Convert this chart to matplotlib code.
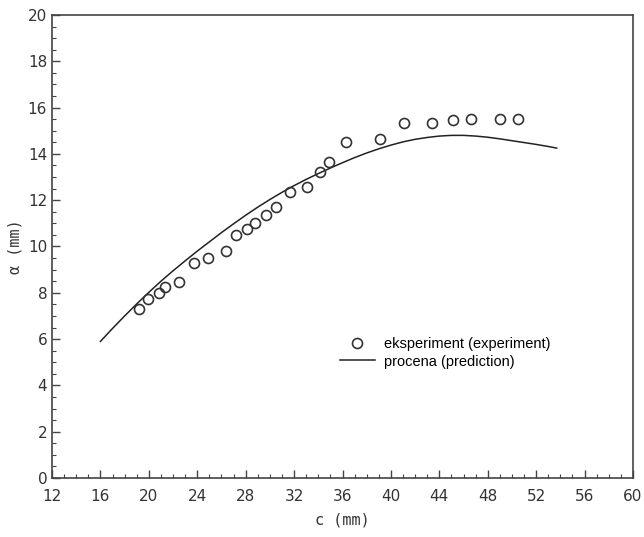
import matplotlib
matplotlib.use("Agg")
import matplotlib.pyplot as plt
from matplotlib.ticker import MultipleLocator

# experiment points
exp_c = [19.2, 19.9, 20.8, 21.3, 22.5, 23.7, 24.9, 26.4, 27.2, 28.1, 28.8, 29.7,
         30.5, 31.7, 33.1, 34.1, 34.9, 36.3, 39.1, 41.1, 43.4, 45.1, 46.6, 49.0, 50.5]
exp_a = [7.3, 7.75, 8.0, 8.25, 8.45, 9.3, 9.5, 9.8, 10.5, 10.75, 11.0, 11.35,
         11.7, 12.35, 12.55, 13.2, 13.65, 14.5, 14.65, 15.35, 15.35, 15.45, 15.5, 15.5, 15.5]

# prediction curve, read every 1 mm
pred_c = [16, 17, 18, 19, 20, 21, 22, 23, 24, 25, 26, 27, 28, 29, 30, 31, 32, 33, 34,
          35, 36, 37, 38, 39, 40, 41, 42, 43, 44, 45, 46, 47, 48, 49, 50, 51, 52, 53, 53.7]
pred_a = [5.9, 6.46, 7.0, 7.52, 8.02, 8.5, 8.95, 9.38, 9.8, 10.2, 10.6, 10.98, 11.35, 11.7,
          12.03, 12.34, 12.63, 12.9, 13.15, 13.39, 13.62, 13.84, 14.04, 14.22, 14.38, 14.52,
          14.63, 14.71, 14.77, 14.8, 14.8, 14.77, 14.72, 14.65, 14.57, 14.49, 14.41, 14.32, 14.25]

x_ticks = list(range(12, 61, 4))
y_ticks = list(range(0, 21, 2))

fig = plt.figure(figsize=(6.44, 5.37), dpi=100)
ax = fig.add_axes([52 / 644, 1 - 478 / 537, 581 / 644, 463 / 537])

ax.plot(pred_c, pred_a, color="#222222", lw=1.1, label="procena (prediction)")
ax.plot(exp_c, exp_a, ls="none", marker="o", ms=7.2, mfc="none", mec="#333333",
        mew=1.2, label="eksperiment (experiment)")

ax.set_xlim(12, 60)
ax.set_ylim(0, 20)
ax.set_xticks(x_ticks)
ax.set_yticks(y_ticks)
ax.xaxis.set_minor_locator(MultipleLocator(1))
ax.yaxis.set_minor_locator(MultipleLocator(0.5))
ax.tick_params(which="both", direction="in", top=False, right=False,
               labelsize=11, labelcolor="#333333", color="#444444")
ax.tick_params(which="major", length=6, width=1)
ax.tick_params(which="minor", length=3, width=0.8)
ax.tick_params(axis="x", pad=8)
for s in ax.spines.values():
    s.set_color("#444444")
    s.set_linewidth(1.2)

ax.set_xlabel("c (mm)", family="DejaVu Sans Mono", fontsize=11, color="#333333", labelpad=6)
ax.set_ylabel("\u03b1 (mm)", family="DejaVu Sans Mono", fontsize=11, color="#333333", labelpad=4)

handles, labels = ax.get_legend_handles_labels()
ax.legend(handles[::-1], labels[::-1], loc="upper left", bbox_to_anchor=(0.473, 0.333),
          frameon=False, handlelength=2.4, handletextpad=0.6, labelspacing=0.25,
          prop={"family": "Liberation Sans", "size": 10.5})

fig.savefig("out.png", dpi=100)
